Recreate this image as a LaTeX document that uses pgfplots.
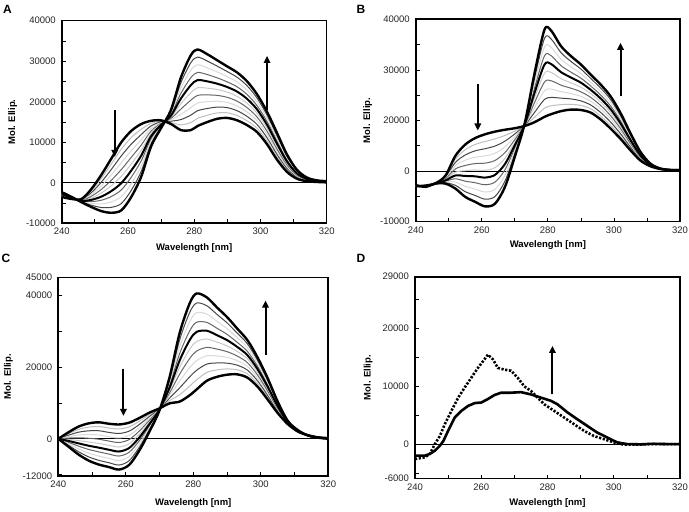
\documentclass[border=0pt]{standalone}
\usepackage{fontspec}
\setmainfont{Liberation Sans}
\usepackage{pgfplots}
\usepackage{pgfplotstable}
\pgfplotsset{compat=1.18}
\usetikzlibrary{arrows.meta}

\pgfplotstableread{
x c0 c1 c2 c3 c4 c5 c6 c7 c8 c9 c10
240 -3500 -3380 -3260 -3140 -3020 -2900 -2780 -2660 -2540 -2420 -2300
243 -4000 -3950 -3900 -3850 -3800 -3750 -3700 -3650 -3600 -3550 -3500
246 -4000 -4080 -4160 -4240 -4320 -4400 -4480 -4560 -4640 -4720 -4800
249 -1500 -1950 -2400 -2850 -3300 -3750 -4200 -4650 -5100 -5550 -6000
252 2000 1100 200 -700 -1600 -2500 -3400 -4300 -5200 -6100 -7000
255 6000 4660 3320 1980 640 -700 -2040 -3380 -4720 -6060 -7400
258 10000 8320 6640 4960 3280 1600 -80 -1760 -3440 -5120 -6800
261 12800 11170 9540 7910 6280 4650 3020 1390 -240 -1870 -3500
264 14500 13200 11900 10600 9300 8000 6700 5400 4100 2800 1500
267 15300 14670 14040 13410 12780 12150 11520 10890 10260 9630 9000
270 15400 15210 15020 14830 14640 14450 14260 14070 13880 13690 13500
273 14500 14850 15200 15550 15900 16250 16600 16950 17300 17650 18000
276 13000 14300 15600 16900 18200 19500 20800 22100 23400 24700 26000
279 13000 14850 16700 18550 20400 22250 24100 25950 27800 29650 31500
281 14000 15890 17780 19670 21560 23450 25340 27230 29120 31010 32900
284 15000 16670 18340 20010 21680 23350 25020 26690 28360 30030 31700
287 15800 17240 18680 20120 21560 23000 24440 25880 27320 28760 30200
290 16000 17270 18540 19810 21080 22350 23620 24890 26160 27430 28700
293 15400 16580 17760 18940 20120 21300 22480 23660 24840 26020 27200
296 14200 15280 16360 17440 18520 19600 20680 21760 22840 23920 25000
299 12500 13430 14360 15290 16220 17150 18080 19010 19940 20870 21800
302 9500 10300 11100 11900 12700 13500 14300 15100 15900 16700 17500
305 5700 6360 7020 7680 8340 9000 9660 10320 10980 11640 12300
308 2700 3130 3560 3990 4420 4850 5280 5710 6140 6570 7000
311 1000 1220 1440 1660 1880 2100 2320 2540 2760 2980 3200
314 400 490 580 670 760 850 940 1030 1120 1210 1300
317 200 240 280 320 360 400 440 480 520 560 600
320 100 130 160 190 220 250 280 310 340 370 400
}\tabA

\pgfplotstableread{
x c0 c1 c2 c3 c4 c5 c6 c7 c8 c9 c10
240 -4000 -3970 -3940 -3910 -3880 -3850 -3820 -3790 -3760 -3730 -3700
243 -3800 -3835 -3870 -3905 -3940 -3975 -4010 -4045 -4080 -4115 -4150
246 -3200 -3210 -3220 -3230 -3240 -3250 -3260 -3270 -3280 -3290 -3300
249 -1200 -1410 -1620 -1830 -2040 -2250 -2460 -2670 -2880 -3090 -3300
252 4000 3140 2280 1420 560 -300 -1160 -2020 -2880 -3740 -4600
255 7000 5620 4240 2860 1480 100 -1280 -2660 -4040 -5420 -6800
258 8700 7020 5340 3660 1980 300 -1380 -3060 -4740 -6420 -8100
261 9700 7800 5900 4000 2100 200 -1700 -3600 -5500 -7400 -9300
264 10400 8500 6600 4700 2800 900 -1000 -2900 -4800 -6700 -8600
267 10900 9390 7880 6370 4860 3350 1840 330 -1180 -2690 -4200
270 11300 10550 9800 9050 8300 7550 6800 6050 5300 4550 3800
273 11900 11970 12040 12110 12180 12250 12320 12390 12460 12530 12600
276 12900 14200 15500 16800 18100 19400 20700 22000 23300 24600 25900
279 14300 16600 18900 21200 23500 25800 28100 30400 32700 35000 37300
281 15000 17200 19400 21600 23800 26000 28200 30400 32600 34800 37000
284 15800 17510 19220 20930 22640 24350 26060 27770 29480 31190 32900
287 16200 17610 19020 20430 21840 23250 24660 26070 27480 28890 30300
290 16100 17300 18500 19700 20900 22100 23300 24500 25700 26900 28100
293 15400 16400 17400 18400 19400 20400 21400 22400 23400 24400 25400
296 13600 14520 15440 16360 17280 18200 19120 20040 20960 21880 22800
299 11200 12050 12900 13750 14600 15450 16300 17150 18000 18850 19700
302 8500 9180 9860 10540 11220 11900 12580 13260 13940 14620 15300
305 5500 5950 6400 6850 7300 7750 8200 8650 9100 9550 10000
308 2800 3030 3260 3490 3720 3950 4180 4410 4640 4870 5100
311 1300 1370 1440 1510 1580 1650 1720 1790 1860 1930 2000
314 550 565 580 595 610 625 640 655 670 685 700
317 300 300 300 300 300 300 300 300 300 300 300
320 260 260 260 260 260 260 260 260 260 260 260
}\tabB

\pgfplotstableread{
x c0 c1 c2 c3 c4 c5 c6 c7 c8 c9 c10
240 0 0 0 0 0 0 0 0 0 0 0
243 1800 1400 1000 600 200 -200 -600 -1000 -1400 -1800 -2200
246 3400 2620 1840 1060 280 -500 -1280 -2060 -2840 -3620 -4400
249 4300 3260 2220 1180 140 -900 -1940 -2980 -4020 -5060 -6100
252 4600 3420 2240 1060 -120 -1300 -2480 -3660 -4840 -6020 -7200
255 4200 2990 1780 570 -640 -1850 -3060 -4270 -5480 -6690 -7900
258 4000 2740 1480 220 -1040 -2300 -3560 -4820 -6080 -7340 -8600
261 4500 3320 2140 960 -220 -1400 -2580 -3760 -4940 -6120 -7300
264 5800 4890 3980 3070 2160 1250 340 -570 -1480 -2390 -3300
267 7300 6770 6240 5710 5180 4650 4120 3590 3060 2530 2000
270 8500 8450 8400 8350 8300 8250 8200 8150 8100 8050 8000
273 9900 10640 11380 12120 12860 13600 14340 15080 15820 16560 17300
276 10400 12330 14260 16190 18120 20050 21980 23910 25840 27770 29700
279 12200 14780 17360 19940 22520 25100 27680 30260 32840 35420 38000
281 13800 16480 19160 21840 24520 27200 29880 32560 35240 37920 40600
284 16200 18530 20860 23190 25520 27850 30180 32510 34840 37170 39500
287 17300 19240 21180 23120 25060 27000 28940 30880 32820 34760 36700
290 17900 19510 21120 22730 24340 25950 27560 29170 30780 32390 34000
293 18000 19280 20560 21840 23120 24400 25680 26960 28240 29520 30800
296 17100 18150 19200 20250 21300 22350 23400 24450 25500 26550 27600
299 14600 15420 16240 17060 17880 18700 19520 20340 21160 21980 22800
302 11000 11600 12200 12800 13400 14000 14600 15200 15800 16400 17000
305 7200 7520 7840 8160 8480 8800 9120 9440 9760 10080 10400
308 4100 4190 4280 4370 4460 4550 4640 4730 4820 4910 5000
311 2000 2040 2080 2120 2160 2200 2240 2280 2320 2360 2400
314 1000 990 980 970 960 950 940 930 920 910 900
317 400 390 380 370 360 350 340 330 320 310 300
320 200 180 160 140 120 100 80 60 40 20 0
}\tabC

\pgfplotstableread{
x y
240 -2000
243 -2000
244.5 -1700
246 -1150
247.5 -300
248.6 575
250 2300
252 4600
254 5750
256 6600
258 7100
260 7200
262 7800
264 8500
266 8900
269 8900
272 9000
275 8600
278 8050
281 7500
283 6900
286 5500
289 4300
292 3150
295 2000
298 1150
301 300
304 0
308 -50
312 50
316 0
320 0
}\tabDsolid

\pgfplotstableread{
x y
240 -2600
243 -2300
244.5 -1700
246 0
247.5 1400
249 3450
251 5750
253 8000
255 9800
257 11500
259 13200
261 14700
262 15500
263.5 14700
265 13200
267 12900
269 12700
271 11500
273 10000
275 9200
277 8050
279 6900
282 5750
285 4600
288 3450
291 2300
294 1400
297 860
300 300
303 -100
307 -100
311 0
315 0
320 0
}\tabDdot

\pgfplotsset{
  cd/.style={scale only axis, anchor=south west,
    scaled y ticks=false, scaled x ticks=false,
    xmin=240, xmax=320,
    xtick={240,260,280,300,320}, xticklabels={240,260,280,300,320},
    minor xtick={250,270,290,310},
    tick pos=left, tick align=inside,
    major tick length=4pt, minor tick length=4pt,
    tick style={black, line width=0.7pt},
    axis line style={line width=1.6pt},
    tick label style={font=\fontsize{9.5}{11}\selectfont, text=black!85},
    xticklabel style={yshift=-1.5pt},
    yticklabel style={xshift=-2.5pt},
    label style={font=\bfseries\fontsize{9.5}{11}\selectfont},
    xlabel={Wavelength [nm]}, ylabel={Mol. Ellip.},
  },
}
\tikzset{
  tk/.style={black, line width=2.4pt, smooth, line join=round},
  tm/.style={black, line width=2pt, smooth, line join=round},
  ga/.style={gray!50, line width=1pt, smooth},
  gb/.style={black!72, line width=1pt, smooth},
  gc/.style={gray!30, line width=1pt, smooth},
  gd/.style={black!60, line width=1pt, smooth},
  ge/.style={gray!42, line width=1pt, smooth},
  zl/.style={black, line width=0.6pt},
  arr/.style={line width=2pt, -{Triangle[length=7pt,width=6.5pt]}},
}

\begin{document}
\begin{tikzpicture}
\useasboundingbox (0,0) rectangle (689pt,512pt);

% Panel A
\begin{axis}[cd, at={(61.7pt,288.7pt)}, width=265pt, height=202.6pt,
  ymin=-10000, ymax=40000,
  ytick={-10000,0,10000,20000,30000,40000},
  yticklabels={-10000,0,10000,20000,30000,40000},
  minor ytick={-5000,5000,15000,25000,35000},
  xlabel style={at={(axis description cs:0.5,-0.123)}, anchor=center},
  ylabel style={at={(axis description cs:-0.185,0.5)}, anchor=center}]
\addplot[zl] coordinates {(240,0) (320,0)};
\addplot[ga] table[x=x,y=c1]{\tabA};
\addplot[gb] table[x=x,y=c2]{\tabA};
\addplot[gc] table[x=x,y=c3]{\tabA};
\addplot[gd] table[x=x,y=c4]{\tabA};
\addplot[ge] table[x=x,y=c5]{\tabA};
\addplot[gd] table[x=x,y=c7]{\tabA};
\addplot[gc] table[x=x,y=c8]{\tabA};
\addplot[gb] table[x=x,y=c9]{\tabA};
\addplot[tm] table[x=x,y=c6]{\tabA};
\addplot[tk] table[x=x,y=c0]{\tabA};
\addplot[tk] table[x=x,y=c10]{\tabA};
\draw[arr] (axis cs:256,18000) -- (axis cs:256,6400);
\draw[arr] (axis cs:302,18000) -- (axis cs:302,31300);
\end{axis}

% Panel B
\begin{axis}[cd, at={(415.7pt,290.3pt)}, width=264.3pt, height=202.4pt,
  ymin=-13333, ymax=40000,
  ytick={-13333,0,13333,26667,40000},
  yticklabels={-10000,0,20000,30000,40000},
  minor ytick={-6667,6667,20000,33333},
  xlabel style={at={(axis description cs:0.5,-0.115)}, anchor=center},
  ylabel style={at={(axis description cs:-0.182,0.5)}, anchor=center}]
\addplot[zl] coordinates {(240,0) (320,0)};
\addplot[ga] table[x=x,y=c1]{\tabB};
\addplot[gb] table[x=x,y=c2]{\tabB};
\addplot[gc] table[x=x,y=c3]{\tabB};
\addplot[gd] table[x=x,y=c4]{\tabB};
\addplot[ge] table[x=x,y=c5]{\tabB};
\addplot[gd] table[x=x,y=c7]{\tabB};
\addplot[gc] table[x=x,y=c8]{\tabB};
\addplot[gb] table[x=x,y=c9]{\tabB};
\addplot[tm] table[x=x,y=c6]{\tabB};
\addplot[tk] table[x=x,y=c0]{\tabB};
\addplot[tk] table[x=x,y=c10]{\tabB};
\draw[arr] (axis cs:258.8,23000) -- (axis cs:258.8,10700);
\draw[arr] (axis cs:302,19700) -- (axis cs:302,33800);
\end{axis}

% Panel C
\begin{axis}[cd, at={(58.3pt,36pt)}, width=270pt, height=198.3pt,
  ymin=-10400, ymax=45000,
  ytick={-10400,0,20000,40000,45000},
  yticklabels={-12000,0,20000,40000,45000},
  minor ytick={-10000,10000,30000},
  xlabel style={at={(axis description cs:0.5,-0.135)}, anchor=center},
  ylabel style={at={(axis description cs:-0.185,0.5)}, anchor=center}]
\addplot[zl] coordinates {(240,0) (320,0)};
\addplot[ga] table[x=x,y=c1]{\tabC};
\addplot[gb] table[x=x,y=c2]{\tabC};
\addplot[gc] table[x=x,y=c3]{\tabC};
\addplot[gd] table[x=x,y=c4]{\tabC};
\addplot[ge] table[x=x,y=c5]{\tabC};
\addplot[gd] table[x=x,y=c7]{\tabC};
\addplot[gc] table[x=x,y=c8]{\tabC};
\addplot[gb] table[x=x,y=c9]{\tabC};
\addplot[tm] table[x=x,y=c6]{\tabC};
\addplot[tk] table[x=x,y=c0]{\tabC};
\addplot[tk] table[x=x,y=c10]{\tabC};
\draw[arr] (axis cs:259.3,19600) -- (axis cs:259.3,6400);
\draw[arr] (axis cs:301.4,23400) -- (axis cs:301.4,38600);
\end{axis}

% Panel D
\begin{axis}[cd, at={(415pt,33.3pt)}, width=265pt, height=202pt,
  ymin=-6000, ymax=29000,
  ytick={-6000,0,10000,20000,29000},
  yticklabels={-6000,0,10000,20000,29000},
  minor ytick={-5000,5000,15000,25000},
  xlabel style={at={(axis description cs:0.5,-0.119)}, anchor=center},
  ylabel style={at={(axis description cs:-0.177,0.5)}, anchor=center}]
\addplot[zl] coordinates {(240,0) (320,0)};
\addplot[black, line width=2.6pt, dash pattern=on 2.2pt off 1.6pt] table[x=x,y=y]{\tabDdot};
\addplot[black, line width=2.6pt, line join=round] table[x=x,y=y]{\tabDsolid};
\draw[arr] (axis cs:281.5,8600) -- (axis cs:281.5,17000);
\end{axis}

\node[font=\bfseries\fontsize{12}{12}\selectfont] at (7.5pt,503pt) {A};
\node[font=\bfseries\fontsize{12}{12}\selectfont] at (361pt,503pt) {B};
\node[font=\bfseries\fontsize{12}{12}\selectfont] at (6pt,254pt) {C};
\node[font=\bfseries\fontsize{12}{12}\selectfont] at (361pt,254pt) {D};
\end{tikzpicture}
\end{document}
